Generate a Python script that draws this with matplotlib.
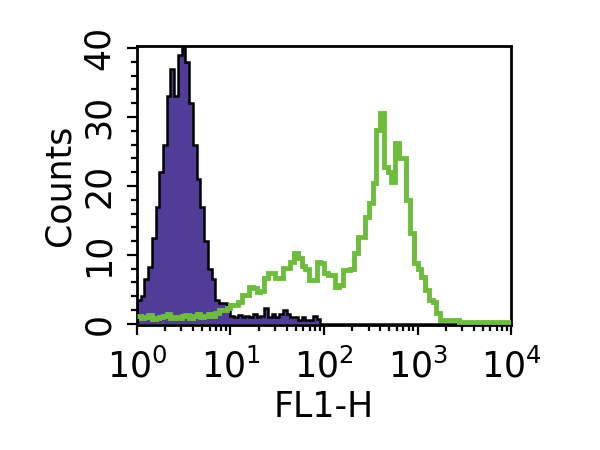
import numpy as np
import matplotlib
matplotlib.use("Agg")
import matplotlib.pyplot as plt
from matplotlib.ticker import FixedLocator, NullFormatter


# histogram channels, 25 per decade over 10^0 .. 10^4
bins_per_decade = 25
n_decades = 4

# isotype control (filled purple)
control_counts = [
    3.5, 4.0, 6.5, 8.3, 12.5, 17.0, 22.0, 26.0, 33.0, 37.0,
    33.0, 39.0, 40.5, 38.0, 32.0, 26.0, 21.0, 17.0, 12.0, 8.0,
    6.5, 3.5, 3.0, 3.0, 2.0, 1.2, 1.0, 1.3, 1.0, 1.2,
    1.0, 1.4, 1.0, 1.2, 2.3, 1.0, 1.5, 1.0, 1.5, 2.0,
    1.5, 1.0, 1.0, 0.5, 1.0, 0.5, 0.5, 1.2, 0.7, 0.0,
] + [0.0] * 50

# stained sample (green outline)
sample_counts = [
    1.2, 0.8, 1.0, 1.3, 0.7, 0.8, 1.0, 1.2, 1.4, 0.9,
    1.0, 0.8, 1.1, 1.3, 0.8, 1.2, 1.4, 1.0, 1.2, 1.5,
    1.2, 1.6, 2.0, 2.0, 2.3, 2.8, 2.8, 3.2, 4.2, 4.2,
    5.4, 5.2, 4.6, 4.8, 6.6, 7.4, 7.4, 6.6, 6.6, 8.1,
    8.1, 9.0, 10.3, 9.5, 8.4, 8.0, 6.4, 6.4, 9.0, 8.8,
    7.4, 7.1, 7.1, 5.4, 5.6, 7.8, 7.8, 8.0, 10.3, 12.6,
    12.6, 15.5, 17.5, 20.4, 28.1, 30.6, 22.8, 22.0, 20.6, 26.2,
    24.0, 24.0, 18.0, 13.2, 8.8, 8.0, 6.8, 4.9, 3.5, 3.2,
    1.6, 0.6, 0.6, 0.6, 0.6, 0.6, 0.3, 0.3, 0.3, 0.3,
    0.3, 0.3, 0.3, 0.3, 0.3, 0.3, 0.3, 0.3, 0.3, 0.3,
]

decades = [1, 10, 100, 1000, 10000]
decade_labels = ["$10^{0}$", "$10^{1}$", "$10^{2}$", "$10^{3}$", "$10^{4}$"]
y_ticks = [0, 10, 20, 30, 40]

purple = "#513C98"
green = "#6CBD3A"


def main():
    plt.rcParams["font.family"] = ["DejaVu Sans"]
    plt.rcParams["mathtext.fontset"] = "dejavusans"
    plt.rcParams["mathtext.default"] = "regular"

    edges = 10 ** (np.arange(bins_per_decade * n_decades + 1) / bins_per_decade)

    fig = plt.figure(figsize=(6, 4.5), dpi=100)
    ax = fig.add_axes([0.228, 0.278, 0.624, 0.62])

    ax.stairs(control_counts, edges, fill=True, color=purple, zorder=2)
    ax.stairs(control_counts, edges, color="black", linewidth=1.8, zorder=3)
    ax.stairs(sample_counts, edges, baseline=None, color=green, linewidth=3.5, zorder=4)

    ax.set_xscale("log")
    ax.set_xlim(1, 10000)
    ax.set_ylim(-0.15, 40.3)

    ax.xaxis.set_major_locator(FixedLocator(decades))
    ax.set_xticklabels(decade_labels)
    minor = [m * d for d in decades[:-1] for m in range(2, 10)]
    ax.xaxis.set_minor_locator(FixedLocator(minor))
    ax.xaxis.set_minor_formatter(NullFormatter())

    ax.set_yticks(y_ticks)
    ax.set_yticks(np.arange(0, 41, 2), minor=True)
    ax.set_yticklabels([str(t) for t in y_ticks], rotation=90, va="center")

    for s in ax.spines.values():
        s.set_linewidth(2)
    ax.tick_params(which="major", length=7, width=1.6, labelsize=25)
    ax.tick_params(which="minor", length=4, width=1.6)
    ax.tick_params(axis="x", which="major", pad=10)
    ax.tick_params(axis="y", which="major", pad=8)

    ax.set_xlabel("FL1-H", fontsize=25, labelpad=4)
    ax.set_ylabel("Counts", fontsize=25, labelpad=4)

    fig.savefig("out.png", dpi=100)


if __name__ == "__main__":
    main()
